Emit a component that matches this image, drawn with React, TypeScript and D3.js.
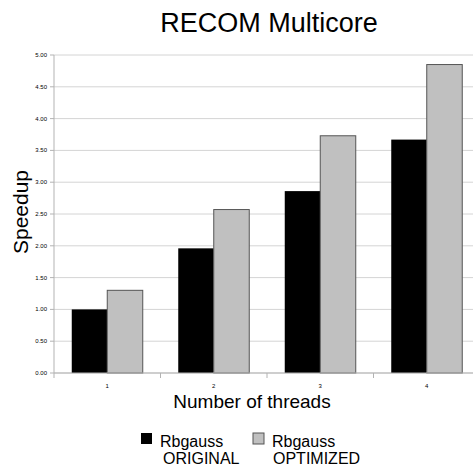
import React from "react";
import * as d3 from "d3";

const threads = ["1", "2", "3", "4"];
const seriesNames = ["ORIGINAL", "OPTIMIZED"];
const originalValues = [1.0, 1.96, 2.86, 3.67];
const optimizedValues = [1.3, 2.57, 3.73, 4.85];
const yTicks = [0, 0.5, 1, 1.5, 2, 2.5, 3, 3.5, 4, 4.5, 5];
const seriesColors = ["#000000", "#c0c0c0"];

const W = 473;
const H = 474;
const FONT = "'Liberation Sans', Arial, Helvetica, sans-serif";

export default function App() {
  const x = d3
    .scaleBand<string>()
    .domain(threads)
    .range([54, 480])
    .paddingInner(1 / 3)
    .paddingOuter(1 / 6);
  const xs = d3.scaleBand<string>().domain(seriesNames).range([0, x.bandwidth()]);
  const y = d3.scaleLinear().domain([0, 5]).range([373, 55]);
  const fmt = d3.format(".2f");
  const [x0, x1] = x.range();
  const step = x.step();
  const data = threads.map((t, i) => ({
    t,
    vals: [originalValues[i], optimizedValues[i]],
  }));
  const legendX = [141, 253];
  const legendSub = [22, 20];

  return (
    <svg
      width={W}
      height={H}
      style={{ position: "absolute", left: 0, top: 0, background: "#fff" }}
      fontFamily={FONT}
    >
      <rect x={0} y={0} width={W} height={H} fill="#fff" />
      <text x={269} y={32} fontSize={27} textAnchor="middle" fill="#000">
        RECOM Multicore
      </text>
      {yTicks.map((v) => (
        <line
          key={"g" + v}
          x1={x0}
          x2={x1}
          y1={y(v)}
          y2={y(v)}
          stroke="#d4d4d4"
          strokeWidth={1}
        />
      ))}
      {yTicks.map((v) => (
        <g key={"t" + v}>
          <line x1={50} x2={x0} y1={y(v)} y2={y(v)} stroke="#b3b3b3" />
          <text x={47} y={y(v) + 2} fontSize={6} textAnchor="end" fill="#000">
            {fmt(v)}
          </text>
        </g>
      ))}
      {data.map((d) =>
        d.vals.map((v, j) => {
          const bx = (x(d.t) as number) + (xs(seriesNames[j]) as number);
          const by = y(v);
          return (
            <rect
              key={d.t + j}
              x={bx}
              y={by}
              width={xs.bandwidth()}
              height={y(0) - by}
              fill={seriesColors[j]}
              stroke={j === 0 ? "#000" : "#555"}
              strokeWidth={j === 0 ? 0 : 1}
            />
          );
        })
      )}
      <line x1={x0} x2={x0} y1={y(5)} y2={y(0) + 5} stroke="#b3b3b3" />
      <line x1={x0} x2={x1} y1={y(0)} y2={y(0)} stroke="#b3b3b3" />
      {threads.slice(1).map((t, i) => (
        <line
          key={"xt" + t}
          x1={x0 + step * (i + 1)}
          x2={x0 + step * (i + 1)}
          y1={y(0)}
          y2={y(0) + 5}
          stroke="#b3b3b3"
        />
      ))}
      {threads.map((t) => (
        <text
          key={"xl" + t}
          x={(x(t) as number) + x.bandwidth() / 2}
          y={388}
          fontSize={6}
          textAnchor="middle"
          fill="#000"
        >
          {t}
        </text>
      ))}
      <text x={252} y={408} fontSize={19} textAnchor="middle" fill="#000">
        Number of threads
      </text>
      <text
        transform={`translate(28,${y(2.5) - 2}) rotate(-90)`}
        fontSize={21}
        textAnchor="middle"
        fill="#000"
      >
        Speedup
      </text>
      {seriesNames.map((s, j) => {
        const lx = legendX[j];
        return (
          <g key={"lg" + s}>
            <rect
              x={lx}
              y={433}
              width={11}
              height={11}
              fill={seriesColors[j]}
              stroke={j === 0 ? "#000" : "#555"}
              strokeWidth={j === 0 ? 0 : 1}
            />
            <text x={lx + 19} y={447} fontSize={16} fill="#000">
              Rbgauss
            </text>
            <text x={lx + legendSub[j]} y={464} fontSize={16} fill="#000">
              {s}
            </text>
          </g>
        );
      })}
    </svg>
  );
}
